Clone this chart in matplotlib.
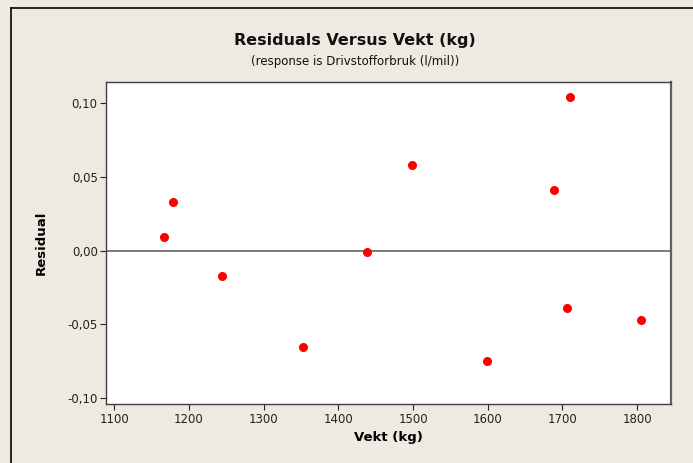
import matplotlib
matplotlib.use("Agg")
import matplotlib.pyplot as plt
from matplotlib.lines import Line2D

# data
vekt = [1166, 1178, 1244, 1353, 1438, 1498, 1599, 1689, 1706, 1710, 1805]
residual = [0.009, 0.033, -0.0175, -0.065, -0.001, 0.058, -0.075, 0.041, -0.039, 0.104, -0.047]

xticks = [1100, 1200, 1300, 1400, 1500, 1600, 1700, 1800]
yticks = [-0.10, -0.05, 0.00, 0.05, 0.10]
ytick_labels = ["-0,10", "-0,05", "0,00", "0,05", "0,10"]

bg = "#eeeae1"
plt.rcParams['font.family'] = ['DejaVu Sans']

fig = plt.figure(figsize=(6.93, 4.63), dpi=100, facecolor=bg)
ax = fig.add_axes([0.153, 0.127, 0.815, 0.696])
ax.set_facecolor("white")

ax.axhline(0, color="#707070", lw=1.3, zorder=1)
ax.plot(vekt, residual, "o", color="red", ms=5.5, mec="red", zorder=3)

ax.set_xlim(1089, 1845)
ax.set_ylim(-0.104, 0.1142)
ax.set_xticks(xticks)
ax.set_xticklabels([str(t) for t in xticks])
ax.set_yticks(yticks)
ax.set_yticklabels(ytick_labels)
ax.tick_params(direction="out", length=4, width=0.8, labelsize=8.5, colors="#222222", pad=2)

for s in ax.spines.values():
    s.set_color("#404040")
    s.set_linewidth(1.0)
ax.spines["right"].set_color("#606060")
ax.spines["right"].set_linewidth(1.6)

ax.set_xlabel("Vekt (kg)", fontsize=9.5, fontweight="bold", labelpad=4)
ax.set_ylabel("Residual", fontsize=9.5, fontweight="bold", labelpad=14)

fig.text(355 / 693, 1 - 41 / 463, "Residuals Versus Vekt (kg)", ha="center", va="center",
         fontsize=11.5, fontweight="bold", color="#111111")
fig.text(355 / 693, 1 - 61 / 463, "(response is Drivstofforbruk (l/mil))", ha="center",
         va="center", fontsize=8.5, color="#111111")

# window frame (top and left edges)
fig.add_artist(Line2D([11 / 693, 1], [1 - 8 / 463, 1 - 8 / 463], color="black", lw=1.2,
                      transform=fig.transFigure))
fig.add_artist(Line2D([11 / 693, 11 / 693], [0, 1 - 8 / 463], color="black", lw=1.2,
                      transform=fig.transFigure))

fig.savefig("out.png", dpi=100, facecolor=bg)
